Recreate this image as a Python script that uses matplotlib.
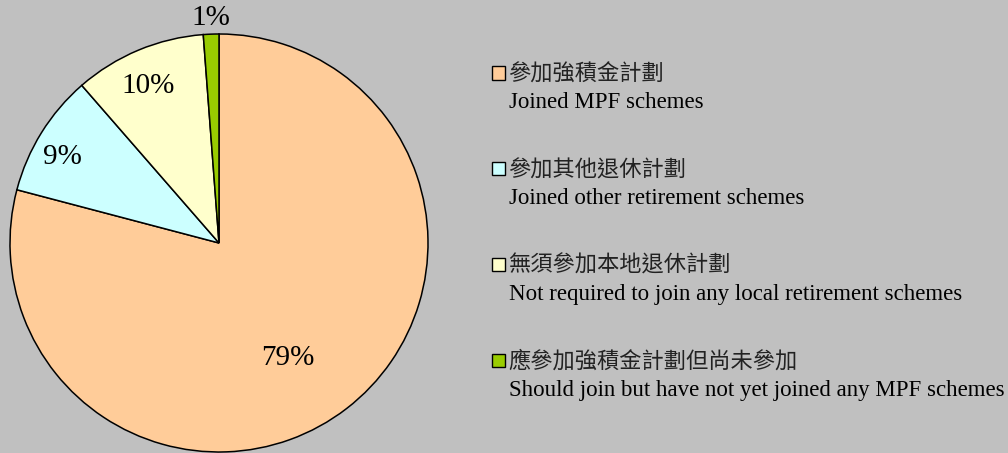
import numpy as np
import matplotlib
matplotlib.use("Agg")
import matplotlib.pyplot as plt
from matplotlib.patches import Rectangle

# data
values = [79.1, 9.5, 10.2, 1.2]
pct_labels = ["79%", "9%", "10%", "1%"]
colors = ["#FFCC99", "#CCFFFF", "#FFFFCC", "#99CC00"]
names_zh = ["參加強積金計劃", "參加其他退休計劃", "無須參加本地退休計劃", "應參加強積金計劃但尚未參加"]
names_en = ["Joined MPF schemes", "Joined other retirement schemes",
            "Not required to join any local retirement schemes",
            "Should join but have not yet joined any MPF schemes"]

W, H = 1008, 453
fig = plt.figure(figsize=(W / 100, H / 100), dpi=100, facecolor="#C0C0C0")

# pie: centre (219, 243) px, radius 209 px
cx, cy, r = 219, 243, 209
ax = fig.add_axes([(cx - r) / W, (H - cy - r) / H, 2 * r / W, 2 * r / H])
ax.set_facecolor("none")
wedges, _ = ax.pie(values, colors=colors, startangle=90, counterclock=False,
                   radius=1, wedgeprops=dict(edgecolor="black", linewidth=1.1))
ax.set_xlim(-1, 1)
ax.set_ylim(-1, 1)
ax.set_aspect("auto")
ax.axis("off")

serif = ["Liberation Serif", "DejaVu Serif"]
# label placement: distance from centre and angle nudge (deg) per slice
dist = [0.642, 0.855, 0.824, 1.075]
nudge = [-7, 3, 1.6, 0]
for w, lab, d, dn in zip(wedges, pct_labels, dist, nudge):
    th = np.deg2rad((w.theta1 + w.theta2) / 2 + dn)
    ax.text(d * np.cos(th), d * np.sin(th), lab, ha="center", va="center",
            fontsize=21, family=serif, clip_on=False)

# legend, drawn by hand
zh_font = ["Noto Sans CJK TC", "DejaVu Sans"]
y0, step = 73, 95.7
for i, (c, zh, en) in enumerate(zip(colors, names_zh, names_en)):
    y = y0 + i * step
    fig.patches.append(Rectangle((492 / W, (H - y - 6.5) / H), 13 / W, 13 / H,
                                 transform=fig.transFigure, facecolor=c,
                                 edgecolor="black", linewidth=1.0))
    fig.text(508 / W, (H - y - 7.5) / H, zh, fontsize=16, family=zh_font,
             va="baseline", ha="left", color="#222222")
    fig.text(509 / W, (H - y - 35.5) / H, en, fontsize=16.5, family=serif,
             va="baseline", ha="left", color="black")

fig.savefig("out.png", dpi=100, facecolor=fig.get_facecolor())
